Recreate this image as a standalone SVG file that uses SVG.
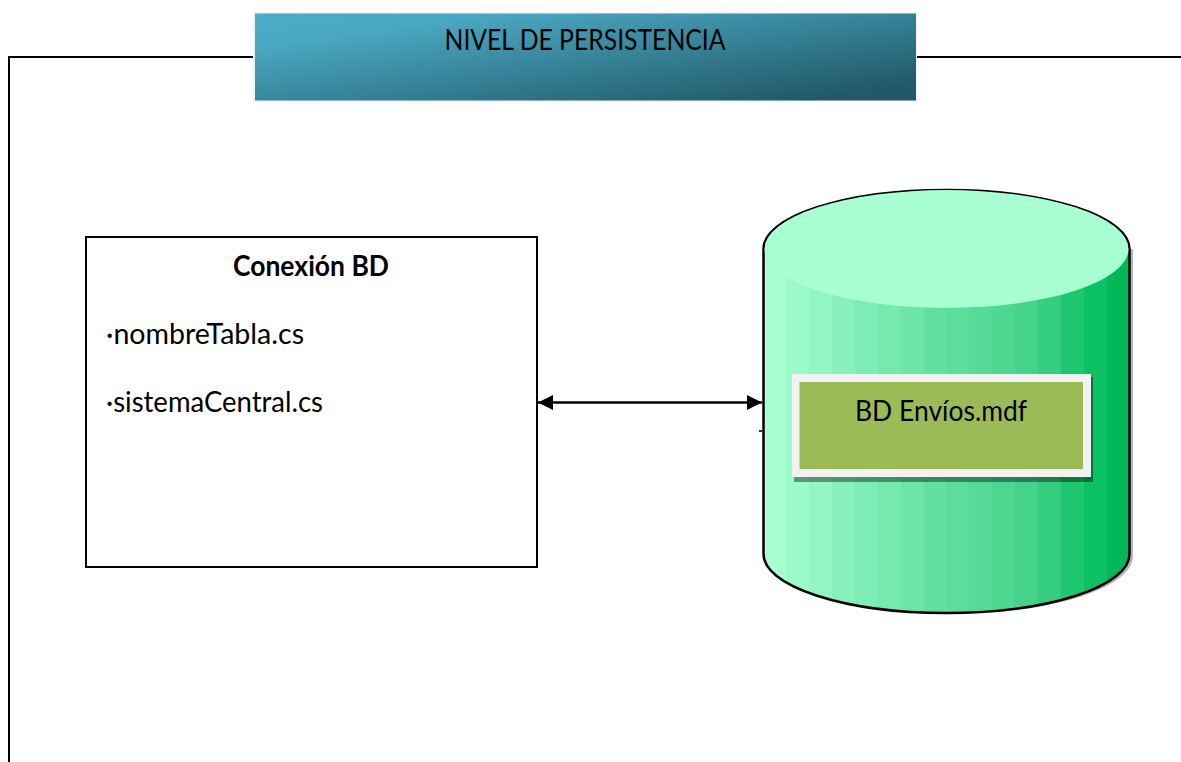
<svg xmlns="http://www.w3.org/2000/svg" width="1181" height="762" viewBox="0 0 1181 762">
<style>
text{font-family:"Lato","Open Sans",sans-serif;font-size:28px;fill:#000}
.line{fill:none;stroke:#000;stroke-width:2}
</style>
<defs>
<linearGradient id="banner" gradientUnits="userSpaceOnUse" x1="255" y1="13" x2="280" y2="185">
<stop offset="0" stop-color="#4bacc6"/><stop offset="0.2" stop-color="#4aa7c1"/><stop offset="0.95" stop-color="#215968"/>
</linearGradient>
<linearGradient id="cyl" x1="0" y1="0" x2="1" y2="0">
<stop offset="0" stop-color="#a8ffd2"/><stop offset=".0625" stop-color="#a8ffd2"/>
<stop offset=".0625" stop-color="#9cf9c9"/><stop offset=".125" stop-color="#9cf9c9"/>
<stop offset=".125" stop-color="#92f5c3"/><stop offset=".1875" stop-color="#92f5c3"/>
<stop offset=".1875" stop-color="#87f0bc"/><stop offset=".25" stop-color="#87f0bc"/>
<stop offset=".25" stop-color="#7decb5"/><stop offset=".3125" stop-color="#7decb5"/>
<stop offset=".3125" stop-color="#75e9ae"/><stop offset=".375" stop-color="#75e9ae"/>
<stop offset=".375" stop-color="#6ce5a8"/><stop offset=".4375" stop-color="#6ce5a8"/>
<stop offset=".4375" stop-color="#63e0a1"/><stop offset=".5" stop-color="#63e0a1"/>
<stop offset=".5" stop-color="#5ddd9c"/><stop offset=".5625" stop-color="#5ddd9c"/>
<stop offset=".5625" stop-color="#55da97"/><stop offset=".625" stop-color="#55da97"/>
<stop offset=".625" stop-color="#4dd791"/><stop offset=".6875" stop-color="#4dd791"/>
<stop offset=".6875" stop-color="#45d38b"/><stop offset=".75" stop-color="#45d38b"/>
<stop offset=".75" stop-color="#35ce80"/><stop offset=".8125" stop-color="#35ce80"/>
<stop offset=".8125" stop-color="#1cc770"/><stop offset=".875" stop-color="#1cc770"/>
<stop offset=".875" stop-color="#0cc064"/><stop offset=".9375" stop-color="#0cc064"/>
<stop offset=".9375" stop-color="#00b858"/><stop offset="1" stop-color="#00b858"/>
</linearGradient>
<marker id="ah" markerUnits="userSpaceOnUse" markerWidth="16" markerHeight="16" refX="15" refY="8" orient="auto-start-reverse">
<path d="M0 0.5L15 8L0 15.5Z" fill="#000"/>
</marker>
</defs>
<rect width="1181" height="762" fill="#fff"/>
<g id="connectors">
<path class="line" d="M9 762V57H253M917 57H1181"/>
<path d="M538 402.500H762" fill="none" stroke="#000" stroke-width="2.500" marker-start="url(#ah)" marker-end="url(#ah)"/>
<path d="M759 431h3" stroke="#333" stroke-width="2"/>
</g>
<g id="banner-node">
<rect x="253" y="12" width="664" height="90" fill="#f2f2f2"/>
<rect x="255" y="13.500" width="661" height="87" fill="url(#banner)"/>
<text x="585" y="50" text-anchor="middle" textLength="281" lengthAdjust="spacingAndGlyphs">NIVEL DE PERSISTENCIA</text>
</g>
<g id="conexion-bd">
<rect x="86" y="237" width="451" height="330" fill="#fff" stroke="#000" stroke-width="2"/>
<text x="311" y="276" text-anchor="middle" font-weight="700" textLength="156" lengthAdjust="spacingAndGlyphs">Conexión BD</text>
<text x="106" y="344" textLength="198" lengthAdjust="spacingAndGlyphs">·nombreTabla.cs</text>
<text x="106" y="412" textLength="217" lengthAdjust="spacingAndGlyphs">·sistemaCentral.cs</text>
</g>
<g id="bd-cylinder">
<path d="M766 249V556C766 588 847 614 949 614S1133 588 1133 556V249Z" fill="#b3b3b8"/>
<path d="M763.500 249V554A183 59 0 0 0 1129.500 554V249A183 59 0 0 0 763.500 249Z" fill="url(#cyl)" stroke="#000" stroke-width="2.500"/>
<ellipse cx="946.500" cy="249" rx="182" ry="59" fill="#a8ffd2"/>
</g>
<g id="bd-envios">
<rect x="794" y="377" width="299" height="105" fill="#000" fill-opacity=".4"/>
<rect x="792" y="374" width="299" height="103" fill="#f2f2f2"/>
<rect x="799.500" y="382" width="283.500" height="87" fill="#9bbb59"/>
<text x="941" y="421" text-anchor="middle" textLength="172" lengthAdjust="spacingAndGlyphs">BD Envíos.mdf</text>
</g>
</svg>
